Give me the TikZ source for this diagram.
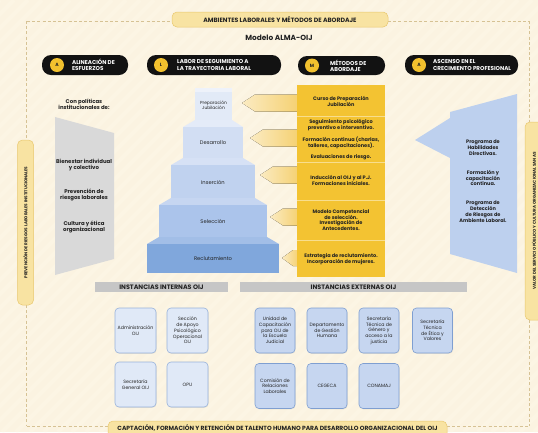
\documentclass[tikz,border=0pt]{standalone}
\usepackage{fontspec}
\setmainfont{Poppins}
\usetikzlibrary{shadows}
\definecolor{bg}{HTML}{FBF3E1}
\definecolor{stripe}{HTML}{FFFAEE}
\definecolor{dashc}{HTML}{D6C294}
\definecolor{bannerY}{HTML}{F8E3A2}
\definecolor{bannerB}{HTML}{E9C86E}
\definecolor{pillk}{HTML}{121212}
\definecolor{yel}{HTML}{F2C12E}
\definecolor{colY}{HTML}{F3C332}
\definecolor{grayT}{HTML}{D9D9D9}
\definecolor{blueR}{HTML}{BDD0EE}
\definecolor{boxI}{HTML}{E0E9F7}
\definecolor{boxIb}{HTML}{98B2DB}
\definecolor{boxE}{HTML}{C6D6F0}
\definecolor{boxEb}{HTML}{7F9FD1}
\definecolor{grayB}{HTML}{C6C6C6}
\definecolor{txt}{HTML}{222222}
\definecolor{sA}{HTML}{E2EAF7}
\definecolor{sAt}{HTML}{EEF2FA}
\definecolor{sB}{HTML}{D2DEF3}
\definecolor{sBt}{HTML}{E4EBF8}
\definecolor{sC}{HTML}{C0D2EF}
\definecolor{sCt}{HTML}{D6E1F5}
\definecolor{sD}{HTML}{ABC4EB}
\definecolor{sDt}{HTML}{C6D6F1}
\definecolor{sE}{HTML}{80A7DC}
\definecolor{sEt}{HTML}{A2BEE7}
\definecolor{arrL}{HTML}{FBEBC2}
\definecolor{arrR}{HTML}{F5D173}
\begin{document}
\begin{tikzpicture}[x=1pt,y=-1pt,
  dashline/.style={draw=dashc, line width=0.7pt, dash pattern=on 3pt off 2.2pt},
  ybanner/.style={fill=bannerY, draw=bannerB, line width=0.5pt, rounded corners=5pt, inner sep=0pt, text=txt, font=\fontsize{6.2}{7}\selectfont\bfseries},
  pill/.style={fill=pillk, rounded corners=9pt, inner sep=0pt},
  ycirc/.style={circle, fill=yel, minimum size=14pt, inner sep=0pt, text=txt, font=\fontsize{4.6}{5}\selectfont\bfseries},
  pilltext/.style={text=white, align=left, inner sep=0pt, font=\fontsize{5.6}{6.2}\selectfont\bfseries},
  small/.style={text=txt, align=center, inner sep=0pt, font=\fontsize{5}{5.9}\selectfont\bfseries},
  steptext/.style={text=txt, align=center, inner sep=0pt, font=\fontsize{5.2}{5.8}\selectfont},
  gbanner/.style={fill=grayB, inner sep=0pt, minimum height=10pt, text=txt, font=\fontsize{6.4}{7}\selectfont\bfseries},
  ibox/.style={fill=boxI, draw=boxIb, line width=0.6pt, rounded corners=4pt, minimum width=41pt, minimum height=45pt, inner sep=0pt, align=center, text=txt, font=\fontsize{4.7}{5.7}\selectfont, drop shadow={opacity=0.15, shadow xshift=0.6pt, shadow yshift=-0.8pt}},
  ebox/.style={ibox, fill=boxE, draw=boxEb, minimum width=40pt},
  yarrow/.style={left color=arrL, right color=arrR}
]
\useasboundingbox (0,0) rectangle (538,432);
\fill[bg] (0,0) rectangle (538,432);
\begin{scope}
  \clip (0,0) rectangle (538,432);
  \foreach \i in {0,14,...,1000} \draw[stripe, line width=4pt, opacity=0.3] (\i,0) -- (\i-432,432);
\end{scope}

% dashed frame
\draw[dashline] (27,21) -- (172,21);
\draw[dashline] (388,21) -- (529,21);
\draw[dashline] (26,21) -- (26,140);
\draw[dashline] (26,305) -- (26,426);
\draw[dashline] (529,21) -- (529,122);
\draw[dashline] (529,320) -- (529,426);
\draw[dashline] (27,426) -- (108,426);
\draw[dashline] (447,426) -- (529,426);

% top banner
\node[ybanner, minimum width=216pt, minimum height=15pt] (topb) at (280,19.5) {AMBIENTES LABORALES Y MÉTODOS DE ABORDAJE};
\node[text=txt, font=\fontsize{7.4}{8}\selectfont\bfseries, inner sep=0pt] (model) at (279,38) {Modelo ALMA-OIJ};

% pills
\node[pill, minimum width=86pt, minimum height=20pt] (p1) at (85,65) {};
\node[ycirc] (c1) at (57,65) {A};
\node[pilltext, anchor=west] (t1) at (72,65) {ALINEACIÓN DE\\ESFUERZOS};
\node[pill, minimum width=134pt, minimum height=20pt] (p2) at (214,65) {};
\node[ycirc] (c2) at (161,65) {L};
\node[pilltext, anchor=west] (t2) at (177,65) {LABOR DE SEGUIMIENTO A\\LA TRAYECTORIA LABORAL};
\node[pill, minimum width=87pt, minimum height=19pt] (p3) at (341.5,65.5) {};
\node[ycirc] (c3) at (312,65.5) {M};
\node[pilltext, anchor=west] (t3) at (330,65.5) {MÉTODOS DE\\ABORDAJE};
\node[pill, minimum width=113pt, minimum height=20pt] (p4) at (461.5,65) {};
\node[ycirc] (c4) at (419,65) {A};
\node[pilltext, anchor=west] (t4) at (433,65) {ASCENSO EN EL\\CRECIMIENTO PROFESIONAL};

% left policies
\node[small, font=\fontsize{5.4}{6.3}\selectfont\bfseries] (pol) at (84,104) {Con políticas\\institucionales de:};
\fill[grayT] (55,117) -- (114,133) -- (114,259) -- (55,275) -- cycle;
\node[small, font=\fontsize{5.4}{6.3}\selectfont\bfseries] (g1) at (84,165) {Bienestar individual\\y colectivo};
\node[small, font=\fontsize{5.4}{6.3}\selectfont\bfseries] (g2) at (84,195) {Prevención de\\riesgos laborales};
\node[small, font=\fontsize{5.4}{6.3}\selectfont\bfseries] (g3) at (84,227) {Cultura y ética\\organizacional};

% side pills
\node[ybanner, minimum width=165pt, minimum height=16pt, rotate=90, font=\fontsize{4.1}{4.6}\selectfont\bfseries] (lp) at (25.5,222.5) {PREVENCIÓN DE RIESGOS LABORALES INSTITUCIONALES};
\node[ybanner, minimum width=198pt, minimum height=18pt, rotate=90, font=\fontsize{4.1}{4.6}\selectfont\bfseries] (rp) at (534,221) {VALOR DEL SERVICIO PÚBLICO Y CULTURA ORGANIZACIONAL SANAS};

% pyramid
\fill[sA] (195,88) rectangle (232,120);
\fill[sAt] (195,88) rectangle (232,92);
\fill[sBt] (195,120) -- (232,120) -- (243,127) -- (183,127) -- cycle;
\fill[sB] (183,127) rectangle (243,158);
\fill[sCt] (183,158) -- (243,158) -- (255,165) -- (171,165) -- cycle;
\fill[sC] (171,165) rectangle (255,198);
\fill[sDt] (171,198) -- (255,198) -- (267,205) -- (159,205) -- cycle;
\fill[sD] (159,205) rectangle (267,237);
\fill[sEt] (159,237) -- (267,237) -- (279,244) -- (147,244) -- cycle;
\fill[sE] (147,244) rectangle (279,273);
\node[steptext, font=\fontsize{4.4}{5.1}\selectfont] (s1) at (213.5,105) {Preparación\\Jubilación};
\node[steptext] (s2) at (213,143) {Desarrollo};
\node[steptext] (s3) at (213,182) {Inserción};
\node[steptext] (s4) at (213,221) {Selección};
\node[steptext] (s5) at (213,259) {Reclutamiento};

% yellow arrows
\fill[yarrow] (242,103) -- (255,94.5) -- (298,94.5) -- (298,111.5) -- (255,111.5) -- cycle;
\fill[yarrow] (250,138) -- (263,129.5) -- (298,129.5) -- (298,146.5) -- (263,146.5) -- cycle;
\fill[yarrow] (260,175) -- (273,166.5) -- (298,166.5) -- (298,183.5) -- (273,183.5) -- cycle;
\fill[yarrow] (270,217) -- (283,208.5) -- (298,208.5) -- (298,225.5) -- (283,225.5) -- cycle;
\fill[yarrow] (282,258) -- (293,250) -- (298,250) -- (298,266) -- (293,266) -- cycle;

% yellow column
\fill[colY] (297,85) rectangle (385,277);
\foreach \yy in {116,162,200,240} \draw[white, opacity=0.45, line width=0.7pt] (297,\yy) -- (385,\yy);
\node[small] (m1) at (341,101) {Curso de Preparación\\Jubilación};
\node[small] (m2) at (341,125) {Seguimiento psicológico\\preventivo e interventivo.};
\node[small] (m3) at (341,143) {Formación continua (charlas,\\talleres, capacitaciones).};
\node[small] (m4) at (341,157) {Evaluaciones de riesgo.};
\node[small] (m5) at (341,180) {Inducción al OIJ y al P.J.\\Formaciones iniciales.};
\node[small] (m6) at (341,220) {Modelo Competencial\\de selección.\\Investigación de\\Antecedentes.};
\node[small] (m7) at (341,259) {Estrategia de reclutamiento.\\Incorporación de mujeres.};

% right blue shape
\fill[blueR] (415,140) -- (450,118) -- (450,112) -- (517,94) -- (517,273) -- (450,254) -- (450,158) -- cycle;
\node[small] (r1) at (483,148) {Programa de\\Habilidades\\Directivas.};
\node[small] (r2) at (483,178) {Formación y\\capacitación\\continua.};
\node[small] (r3) at (483,212) {Programa de\\Detección\\de Riesgos de\\Ambiente Laboral.};

% bottom banners
\node[gbanner, minimum width=133pt] (ii) at (161.5,287) {INSTANCIAS INTERNAS OIJ};
\node[gbanner, minimum width=227pt] (ie) at (353.5,287) {INSTANCIAS EXTERNAS OIJ};

% internal boxes
\node[ibox] (b1) at (135.5,330.5) {Administración\\OIJ};
\node[ibox] (b2) at (187.5,330.5) {Sección\\de Apoyo\\Psicológico\\Operacional\\OIJ};
\node[ibox] (b3) at (135.5,384.5) {Secretaría\\General OIJ};
\node[ibox] (b4) at (187.5,384.5) {OPU};

% external boxes
\node[ebox] (e1) at (275,330.5) {Unidad de\\Capacitación\\para OIJ de\\la Escuela\\Judicial};
\node[ebox] (e2) at (327,330.5) {Departamento\\de Gestión\\Humana};
\node[ebox] (e3) at (379,330.5) {Secretaría\\Técnica de\\Género y\\acceso a la\\justicia};
\node[ebox] (e4) at (432.5,330.5) {Secretaría\\Técnica\\de Ética y\\Valores};
\node[ebox] (e5) at (275,386) {Comisión de\\Relaciones\\Laborales};
\node[ebox] (e6) at (327,386) {CEGECA};
\node[ebox] (e7) at (379,386) {CONAMAJ};

% bottom banner
\node[ybanner, minimum width=339pt, minimum height=19pt] (botb) at (277.5,430.5) {};
\node[text=txt, font=\fontsize{6}{6.6}\selectfont\bfseries, inner sep=0pt] (bott) at (277.5,427.5) {CAPTACIÓN, FORMACIÓN Y RETENCIÓN DE TALENTO HUMANO PARA DESARROLLO ORGANIZACIONAL DEL OIJ};
\end{tikzpicture}
\end{document}
